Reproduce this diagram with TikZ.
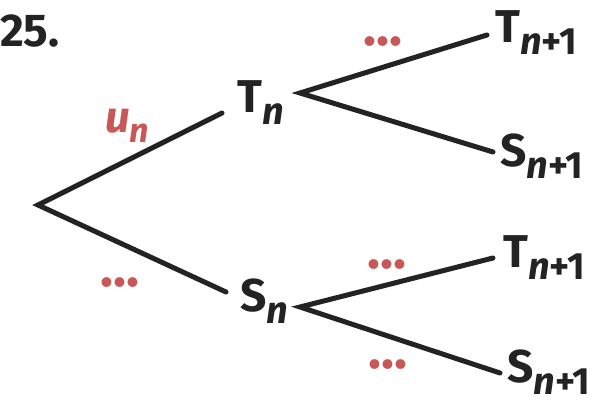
\documentclass[tikz,border=0pt]{standalone}
\usepackage{fontspec}
\setmainfont{Fira Sans}
\usetikzlibrary{calc}
\definecolor{redlab}{RGB}{200,88,88}
\definecolor{ink}{RGB}{35,35,35}
\newcommand{\lbl}[2]{#1\raisebox{-12pt}{\fontsize{38}{38}\selectfont #2}}
\begin{document}
\begin{tikzpicture}[x=1pt,y=-1pt,
  lab/.style={anchor=base west,inner sep=0pt,font=\fontsize{46}{46}\selectfont\bfseries,text=ink},
  redtxt/.style={anchor=base west,inner sep=0pt,font=\fontsize{44}{44}\selectfont\bfseries,text=redlab},
  dots/.style={anchor=center,inner sep=0pt,font=\fontsize{54}{54}\selectfont\bfseries,text=redlab},
  edge/.style={line width=5pt,draw=ink,line cap=round}]
\fill[white] (0,0) rectangle (616,411);
\useasboundingbox (0,0) rectangle (616,411);
\node[lab] (num) at (0,47) {25.};
\node[lab] (Tn) at (237,113) {\lbl{T}{\itshape n}};
\node[lab] (Sn) at (240,312) {\lbl{S}{\itshape n}};
\node[lab] (T1) at (495,43) {\lbl{T}{{\itshape n}+1}};
\node[lab] (S1) at (500,167) {\lbl{S}{{\itshape n}+1}};
\node[lab] (T2) at (503,268) {\lbl{T}{{\itshape n}+1}};
\node[lab] (S2) at (507,383) {\lbl{S}{{\itshape n}+1}};
\coordinate (root) at (38,205);
\coordinate (fu) at ($(Tn.base west)+(63,-20)$);
\coordinate (fl) at ($(Sn.base west)+(60,-5)$);
\draw[edge] ($(Tn.base west)+(-15,0)$) -- (root) -- ($(Sn.base west)+(-14,-20)$);
\draw[edge] ($(T1.base west)+(-8,-8)$) -- (fu) -- ($(S1.base west)+(-7,-15)$);
\draw[edge] ($(T2.base west)+(-10,-10)$) -- (fl) -- ($(S2.base west)+(-7,-10)$);
\node[redtxt] (un) at (105,133) {\itshape u\raisebox{-10pt}{\fontsize{34}{34}\selectfont n}};
\node[dots] (d1) at (383,42) {...};
\node[dots] (d2) at (120,283) {...};
\node[dots] (d3) at (387,265) {...};
\node[dots] (d4) at (388,365) {...};
\end{tikzpicture}
\end{document}
